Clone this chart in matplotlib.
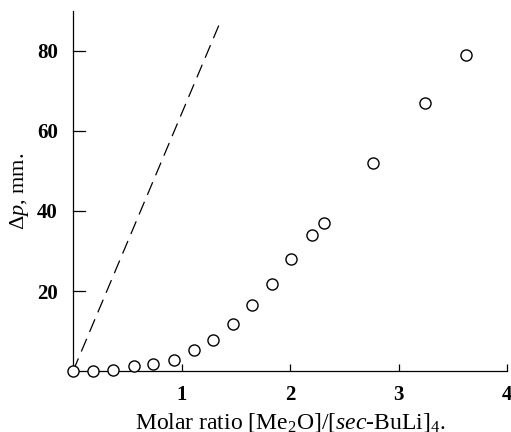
import matplotlib
matplotlib.use("Agg")
import matplotlib.pyplot as plt

# measured points: molar ratio vs pressure drop
ratio = [0.0, 0.18, 0.37, 0.56, 0.74, 0.93, 1.11, 1.29, 1.47, 1.65,
         1.83, 2.01, 2.20, 2.31, 2.76, 3.24, 3.62]
dp = [0.0, 0.0, 0.3, 1.2, 1.7, 2.8, 5.2, 7.7, 11.7, 16.5,
      21.8, 27.9, 34.1, 37.0, 52.1, 66.9, 79.0]

# dashed reference line
line_x = [0.0, 1.36]
line_y = [0.0, 87.5]

xticks = [1, 2, 3, 4]
yticks = [20, 40, 60, 80]

plt.rcParams['font.family'] = ['Liberation Serif', 'DejaVu Serif']
plt.rcParams['mathtext.fontset'] = 'custom'
plt.rcParams['mathtext.rm'] = 'Liberation Serif'
plt.rcParams['mathtext.it'] = 'Liberation Serif:italic'
plt.rcParams['mathtext.bf'] = 'Liberation Serif:bold'

fig = plt.figure(figsize=(5.11, 4.32), dpi=100)
ax = fig.add_axes([0.143, 0.141, 0.85, 0.834])

ax.plot(line_x, line_y, color='black', lw=0.9, dashes=(11, 6))
ax.plot(ratio, dp, 'o', mfc='white', mec='black', mew=1.0, ms=8, clip_on=False, zorder=3)

ax.set_xlim(0, 4)
ax.set_ylim(0, 90)
ax.set_xticks(xticks)
ax.set_yticks(yticks)
ax.set_xticklabels([str(t) for t in xticks], fontsize=15, fontweight='bold')
ax.set_yticklabels([str(t) for t in yticks], fontsize=15, fontweight='bold')
ax.tick_params(axis='x', direction='in', length=5, width=0.9, pad=10)
ax.tick_params(axis='y', direction='out', length=0, pad=11)
for t in yticks:
    ax.plot([0, 0.11], [t, t], color='black', lw=0.9, clip_on=False)

for s in ['top', 'right']:
    ax.spines[s].set_visible(False)
for s in ['left', 'bottom']:
    ax.spines[s].set_linewidth(0.9)

ax.set_xlabel(r'Molar ratio [Me$_2$O]/[$\it{sec}$-BuLi]$_4$.', fontsize=17, labelpad=4)
ax.set_ylabel(r'$\Delta\it{p}$, mm.', fontsize=16, labelpad=4)

fig.savefig('out.png', dpi=100)
